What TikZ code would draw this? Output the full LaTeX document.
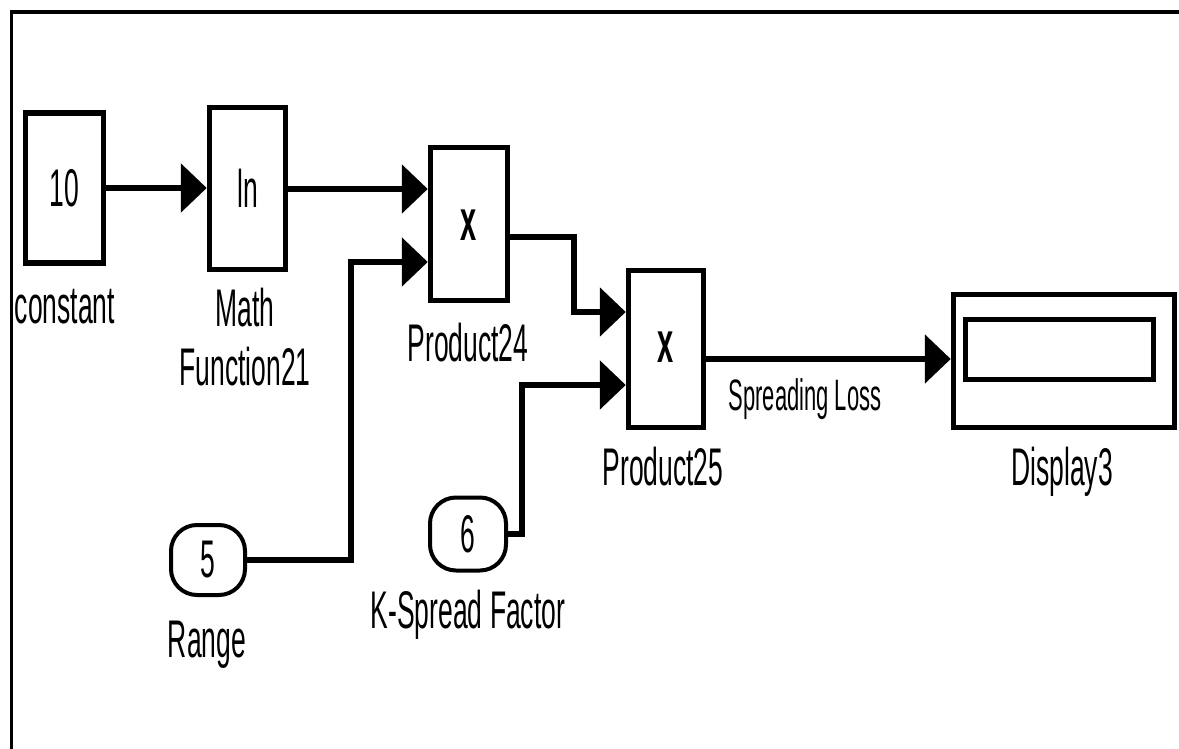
\documentclass[tikz,border=0pt]{standalone}
\usepackage{fontspec}
\newfontfamily\blkfont[FakeStretch=0.5]{Liberation Sans}
\usetikzlibrary{arrows.meta,calc}

\begin{document}
\begin{tikzpicture}[
  x=0.5pt, y=-0.5pt,
  font=\blkfont\fontsize{26.5}{29.5}\selectfont,
  block/.style={draw, line width=2.75pt, inner sep=0pt, minimum width=39pt, minimum height=78pt},
  source/.style={draw, line width=2pt, rounded corners=13pt, inner sep=0pt, minimum width=37pt, minimum height=35pt},
  lbl/.style={inner sep=0pt, anchor=base, align=center},
  mult/.style={font=\blkfont\bfseries\fontsize{29}{29}\selectfont},
  sig/.style={line width=3pt, -{Triangle[length=13pt, width=24pt]}}
]
\useasboundingbox (0,0) rectangle (1179,749);

% frame
\draw[line width=1.75pt] (11.5,749) -- (11.5,12) -- (1179,12);

% blocks
\node[block, minimum width=39pt, minimum height=75pt]     (const)   at (64.5,188)   {10};
\node[block, minimum width=38pt, minimum height=81pt]     (mathfn)  at (247.5,188.5) {ln};
\node[block, minimum width=38.5pt, minimum height=76.5pt] (prod24)  at (469,224)    {};
\node[mult] (prod24x) at (469,225) {x};
\node[block, minimum width=37.5pt, minimum height=78.5pt] (prod25)  at (666,349)    {};
\node[mult] (prod25x) at (666,347) {x};
\node[block, minimum width=110.5pt, minimum height=66.5pt] (display) at (1064,361)  {};
\node[draw, line width=2.5pt, inner sep=0pt, minimum width=94pt, minimum height=30pt] (readout) at (1059.5,349.5) {};
\node[source] (range) at (208,560) {5};
\node[source, minimum width=38pt, minimum height=36.5pt] (kspread) at (468,534) {6};

% labels
\node[lbl] (constlbl) at (65,323) {constant};
\node[lbl, anchor=north] (mathlbl) at (245,288) {Math\\Function21};
\node[lbl] (p24lbl) at (468,361) {Product24};
\node[lbl] (p25lbl) at (663,485) {Product25};
\node[lbl, font=\blkfont\fontsize{22}{24}\selectfont] (losslbl) at (805,410) {Spreading Loss};
\node[lbl] (displbl) at (1062,485) {Display3};
\node[lbl] (rangelbl) at (207,657) {Range};
\node[lbl] (klbl) at (468,628) {K-Spread Factor};

% ports
\coordinate (p24a)   at ($(prod24.west)+(0,-35)$);
\coordinate (p24b)   at ($(prod24.west)+(0,38)$);
\coordinate (p24out) at ($(prod24.east)+(0,13)$);
\coordinate (p25a)   at ($(prod25.west)+(0,-37)$);
\coordinate (p25b)   at ($(prod25.west)+(0,36)$);
\coordinate (p25out) at ($(prod25.east)+(0,10)$);

% signals
\draw[sig] (const.east) -- (const.east -| mathfn.west);
\draw[sig] (mathfn.east |- p24a) -- (p24a);
\draw[sig] (range.east) -- ++(104,0) |- (p24b);
\draw[sig] (p24out) -- ++(64,0) |- (p25a);
\draw[sig] (kspread.east) -- ++(14,0) |- (p25b);
\draw[sig] (p25out) -- (p25out -| display.west);
\end{tikzpicture}
\end{document}
